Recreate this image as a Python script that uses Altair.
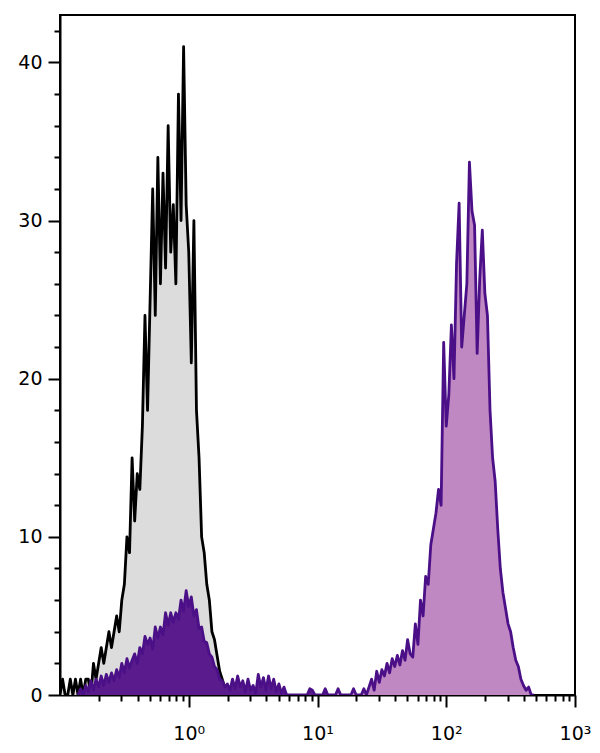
import altair as alt
import pandas as pd

# Histogram channel grid (log10 of fluorescence), step 0.02 decade
STEP = 0.02
black_start = -1.00
black_counts = [0, 1, 0, 0, 1, 0, 1, 0, 1, 0, 1, 1, 0, 2, 1, 2, 3, 2, 3, 4,
                3, 4, 5, 4, 6, 7, 10, 9, 15, 11, 14, 13, 17, 24, 18, 25, 32, 24, 34, 26,
                33, 27, 36, 28, 31, 26, 38, 30, 41, 31, 28, 21, 30, 18, 15, 10, 9, 7, 6, 4,
                3.5, 2.5, 1.5, 1, 0.5, 0]

purple_start = -0.86
purple_counts = (
    [0, 0.4, 0, 0.6, 0.2, 0.9, 0.3, 1, 0.5, 1.2, 0.6, 1.3, 0.8, 1.4, 0.9, 1.6]
    + [1.1, 2, 1.4, 2.3, 1.7, 2.2, 2.6, 2.0, 3.0, 2.6, 3.7, 3.2, 3.6, 2.9, 4.3, 3.6,
       4.3, 3.8, 5.2, 4.4, 5.2, 4.6, 5.2, 4.8, 6.0, 5.3, 6.6, 5.6]
    + [6.2, 5.0, 5.4, 4.2, 4.3, 3.4, 3.3, 2.6, 2.4, 1.8, 1.6, 1.0, 0.9, 0.5, 0.7,
       0.3, 1.0, 0.4, 1.2, 0.5, 0.9, 0.2, 1.0, 0.3, 0.6, 0.1, 1.3, 0.5, 1.1, 0.3,
       1.2, 0.4, 1.0, 0.2, 0.7, 0.1, 0.5, 0, 0, 0]
    + [0, 0, 0, 0, 0, 0, 0.4, 0.3, 0, 0, 0, 0, 0.4, 0, 0, 0, 0, 0.4, 0, 0, 0, 0, 0,
       0.4, 0, 0, 0, 0.4, 0]
    + [0.5, 1, 0.3, 1.5, 0.8, 1.6, 1.2, 2, 1.4, 2.3, 1.8, 2.5, 1.9, 2.8, 2.2, 3.5,
       2.6, 2.4, 4.5, 3.2, 6, 5, 7.5, 7, 9.5, 10.5, 11.5, 13, 12, 22.3, 17, 19, 23.4,
       20, 27.3, 31.1, 22, 24, 26, 33.7, 30.6, 29.7, 21.6, 26.3, 29.4, 25.4, 24, 18,
       15, 13.5, 10.5, 8, 6.5, 5.5, 4.5, 4, 3, 2.2, 1.8, 1, 0.6, 0.3, 0.5, 0, 0]
)
purple_split_log = 1.1  # boundary between the dim (low) and bright (high) populations

x_major = [1, 10, 100, 1000]
x_minor = [0.2, 0.3, 0.4, 0.5, 0.6, 0.7, 0.8, 0.9,
           2, 3, 4, 5, 6, 7, 8, 9,
           20, 30, 40, 50, 60, 70, 80, 90,
           200, 300, 400, 500, 600, 700, 800, 900]
y_ticks = list(range(0, 43, 2))


def frame(start, counts):
    logs = [round(start + i * STEP, 4) for i in range(len(counts))]
    return pd.DataFrame({"lg": logs, "x": [10 ** v for v in logs], "y": counts})


black_df = frame(black_start, black_counts)
purple_df = frame(purple_start, purple_counts)
purple_df["seg"] = ["low" if v < purple_split_log else "high" for v in purple_df["lg"]]

label_expr = ("datum.value == 1 ? '10\u2070' : datum.value == 10 ? '10\u00b9' : "
              "datum.value == 100 ? '10\u00b2' : datum.value == 1000 ? '10\u00b3' : ''")

x_enc = alt.X(
    "x:Q",
    scale=alt.Scale(type="log", domain=[0.1, 1000], nice=False),
    axis=alt.Axis(
        title=None, grid=False, values=sorted(x_major + x_minor),
        labelExpr=label_expr,
        tickSize={"condition": {"test": "abs(log(datum.value)/LN10 - round(log(datum.value)/LN10)) < 0.000001", "value": 12}, "value": 6},
        tickWidth=2, tickColor="black", domainWidth=2, domainColor="black",
        labelFont="DejaVu Sans", labelFontSize=19, labelColor="black", labelPadding=17,
        labelFlush=False, labelOverlap=False,
    ),
)
y_enc = alt.Y(
    "y:Q",
    scale=alt.Scale(domain=[0, 43], nice=False),
    axis=alt.Axis(
        title=None, grid=False, values=y_ticks,
        labelExpr="datum.value % 10 == 0 ? datum.value : ''",
        tickSize={"condition": {"test": "datum.value % 10 == 0", "value": 12}, "value": 6},
        tickWidth=2, tickColor="black", domainWidth=2, domainColor="black",
        labelFont="DejaVu Sans", labelFontSize=19, labelColor="black", labelPadding=6,
        labelOverlap=False,
    ),
)

gray_area = alt.Chart(black_df).mark_area(color="#dcdcdc", clip=True).encode(x=x_enc, y=y_enc)
black_line = alt.Chart(black_df).mark_line(color="black", strokeWidth=2.8, strokeJoin="round", clip=True).encode(x=x_enc, y=y_enc)

purple_low = alt.Chart(purple_df).transform_filter("datum.seg == 'low'").mark_area(color="#5a1c8c", clip=True).encode(x=x_enc, y=y_enc)
purple_high = alt.Chart(purple_df).transform_filter("datum.seg == 'high'").mark_area(color="#c088c2", clip=True).encode(x=x_enc, y=y_enc)
purple_line = alt.Chart(purple_df).mark_line(color="#4b1087", strokeWidth=2.8, strokeJoin="round", clip=True).encode(x=x_enc, y=y_enc)

chart = (
    alt.layer(gray_area, black_line, purple_low, purple_high, purple_line)
    .properties(width=515, height=680, padding={"top": 7, "left": 9, "right": 0, "bottom": 0})
    .configure_view(stroke="black", strokeWidth=2)
)

chart.save("out.html", embed_options={"renderer": "svg", "actions": False})
